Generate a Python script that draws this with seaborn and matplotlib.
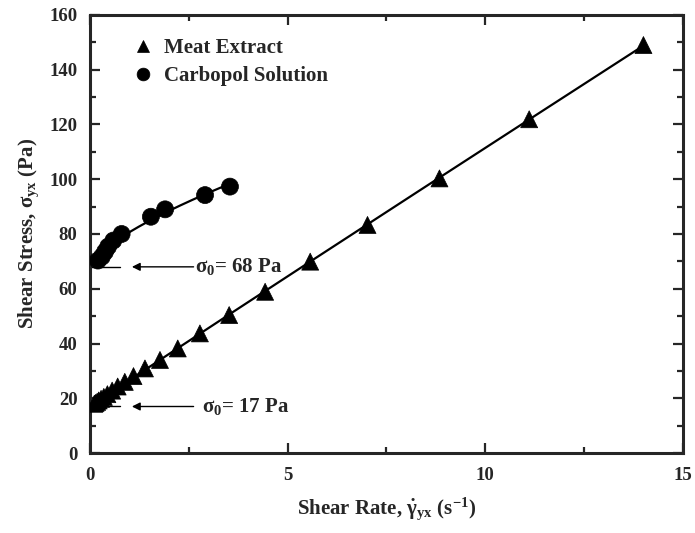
import numpy as np
import pandas as pd
import matplotlib
matplotlib.use("Agg")
import matplotlib.pyplot as plt
from matplotlib.ticker import MultipleLocator
import seaborn as sns

# Meat extract: shear rate (1/s) and shear stress (Pa)
meat_rate = [0.11, 0.14, 0.18, 0.22, 0.28, 0.35, 0.44, 0.56, 0.70, 0.88,
             1.10, 1.39, 1.77, 2.22, 2.78, 3.52, 4.43, 5.57, 7.02, 8.84,
             11.11, 14.0]
meat_stress = [18.0, 18.3, 18.7, 19.2, 19.8, 20.5, 21.5, 22.8, 24.3, 26.0,
               28.1, 30.9, 34.0, 38.2, 43.7, 50.4, 58.9, 69.9, 83.3, 100.3,
               121.9, 149.0]

# Carbopol solution
carb_rate = [0.20, 0.30, 0.38, 0.46, 0.59, 0.80, 1.54, 1.90, 2.91, 3.54]
carb_stress = [70.3, 71.7, 73.5, 75.4, 77.6, 80.0, 86.3, 89.0, 94.2, 97.3]

# Yield stresses
meat_yield = 17
carb_yield = 68

series_names = ["Meat Extract", "Carbopol Solution"]

x_ticks = [0, 5, 10, 15]
y_ticks = [0, 20, 40, 60, 80, 100, 120, 140, 160]

sns.set_theme(style="ticks")
plt.rcParams["font.family"] = ["Liberation Serif", "DejaVu Serif"]
plt.rcParams["font.weight"] = "bold"
plt.rcParams["mathtext.fontset"] = "custom"
plt.rcParams["mathtext.rm"] = "Liberation Serif:bold"
plt.rcParams["mathtext.it"] = "Liberation Serif:bold"
plt.rcParams["mathtext.bf"] = "Liberation Serif:bold"

df = pd.concat([
    pd.DataFrame({"rate": meat_rate, "stress": meat_stress, "fluid": series_names[0]}),
    pd.DataFrame({"rate": carb_rate, "stress": carb_stress, "fluid": series_names[1]}),
], ignore_index=True)


def hb_fit(rate, stress, tau0):
    """Herschel-Bulkley fit tau = tau0 + K * rate**n with the yield stress held fixed."""
    r = np.asarray(rate, float)
    s = np.asarray(stress, float) - tau0
    best = None
    for n in np.linspace(0.2, 1.5, 261):
        p = r ** n
        k = np.dot(p, s) / np.dot(p, p)
        err = np.sum((k * p - s) ** 2)
        if best is None or err < best[0]:
            best = (err, n, k)
    _, n, k = best
    grid = np.linspace(0, r.max(), 300)
    return grid, tau0 + k * grid ** n


fits = []
for name, r, s, t0 in [(series_names[0], meat_rate, meat_stress, meat_yield),
                       (series_names[1], carb_rate, carb_stress, carb_yield)]:
    g, f = hb_fit(r, s, t0)
    fits.append(pd.DataFrame({"rate": g, "stress": f, "fluid": name}))
fit_df = pd.concat(fits, ignore_index=True)

fig = plt.figure(figsize=(6.95, 5.33), dpi=100)
ax = fig.add_axes([0.1295, 0.150, 0.8532, 0.822])

sns.lineplot(data=fit_df, x="rate", y="stress", units="fluid", estimator=None,
             color="black", linewidth=1.6, ax=ax, legend=False, sort=False)
sns.scatterplot(data=df, x="rate", y="stress", style="fluid",
                markers={series_names[0]: "^", series_names[1]: "o"},
                color="black", s=150, edgecolor="black", linewidth=0.5,
                ax=ax, zorder=3)

ax.set_xlim(0, 15)
ax.set_ylim(0, 160)
ax.set_xticks(x_ticks)
ax.set_yticks(y_ticks)
ax.xaxis.set_minor_locator(MultipleLocator(2.5))
ax.yaxis.set_minor_locator(MultipleLocator(10))
ax.tick_params(which="both", direction="in", top=True, right=True, width=1.6)
ax.tick_params(which="major", length=7, labelsize=13.5)
ax.tick_params(axis="x", which="major", pad=10)
ax.tick_params(axis="y", which="major", pad=9)
ax.tick_params(which="minor", length=4.5)
for lab in ax.get_xticklabels() + ax.get_yticklabels():
    lab.set_fontweight("bold")
for sp in ax.spines.values():
    sp.set_linewidth(2.2)

ax.set_xlabel(r"Shear Rate, $\dot{\gamma}_{yx}$ (s$^{-1}$)", fontsize=15,
              fontweight="bold", labelpad=8)
ax.set_ylabel(r"Shear Stress, $\sigma_{yx}$ (Pa)", fontsize=15,
              fontweight="bold", labelpad=6)

# Yield stress markers
for t0, tx in [(carb_yield, 2.66), (meat_yield, 2.83)]:
    ax.plot([0, 0.77], [t0, t0], color="black", linewidth=1.0)
    ax.annotate("", xy=(1.06, t0), xytext=(2.62, t0),
                arrowprops=dict(arrowstyle="-|>", color="black", lw=1.0,
                                mutation_scale=12, shrinkA=0, shrinkB=0))
    ax.text(tx, t0, r"$\sigma_0$= " + f"{t0} Pa", fontsize=15,
            fontweight="bold", va="center", ha="left")

leg = ax.legend(loc="upper left", bbox_to_anchor=(0.04, 0.99), frameon=False,
                fontsize=15, handletextpad=0.5, labelspacing=0.4,
                handlelength=1.0, markerscale=0.75, title=None)
for t in leg.get_texts():
    t.set_fontweight("bold")

fig.savefig("out.png", dpi=100)
